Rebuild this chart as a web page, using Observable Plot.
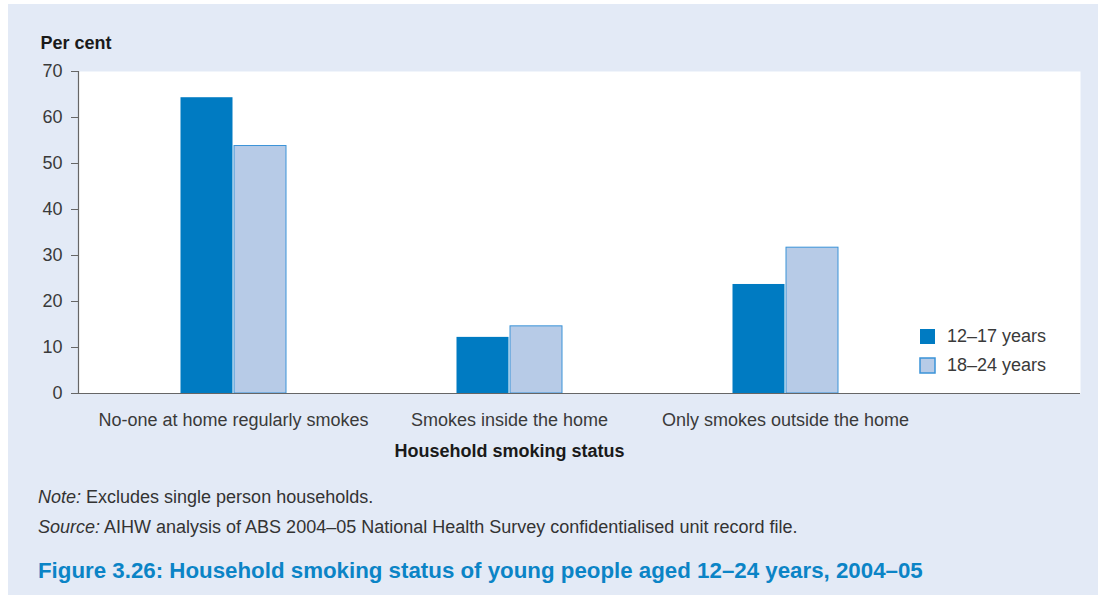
<!DOCTYPE html>
<html>
<head>
<meta charset="utf-8">
<script src="https://cdn.jsdelivr.net/npm/d3@7"></script>
<script src="https://cdn.jsdelivr.net/npm/@observablehq/plot@0.6"></script>
<style>
  body { margin: 0; background: #ffffff; font-family: "Liberation Sans", Arial, sans-serif; }
  #panel { position: absolute; left: 8px; top: 4px; width: 1090px; height: 591px; background: #e3eaf6; }
  #chart { position: absolute; left: 0; top: 0; }
  #legend { position: absolute; left: 912px; top: 318px; color: #333; }
  #caption { position: absolute; left: 30px; top: 478px; color: #333; font-size: 18px; }
  #caption .line { line-height: 30px; height: 30px; white-space: nowrap; }
  #caption .title { margin-top: 14px; color: #0b84c6; font-weight: bold; font-size: 22.3px; line-height: 30px; white-space: nowrap; }
</style>
</head>
<body>
<div id="panel">
  <div id="chart"></div>
  <div id="legend"></div>
  <div id="caption">
    <div class="line"><i>Note:</i> Excludes single person households.</div>
    <div class="line"><i>Source:</i> AIHW analysis of ABS 2004–05 National Health Survey confidentialised unit record file.</div>
    <div class="title">Figure 3.26: Household smoking status of young people aged 12–24 years, 2004–05</div>
  </div>
</div>
<script>
const categories = ["No-one at home regularly smokes", "Smokes inside the home", "Only smokes outside the home"];
const seriesNames = ["12–17 years", "18–24 years"];
const values1217 = [64.3, 12.2, 23.7];
const values1824 = [53.8, 14.6, 31.7];
const yTicks = [0, 10, 20, 30, 40, 50, 60, 70];
const colors = ["#007bc2", "#b7cbe7"];
const yLabel = "Per cent";
const xLabel = "Household smoking status";

const rows1217 = categories.map((c, i) => ({category: c, series: seriesNames[0], value: values1217[i]}));
const rows1824 = categories.map((c, i) => ({category: c, series: seriesNames[1], value: values1824[i]}));

const chart = Plot.plot({
  width: 1090,
  height: 470,
  marginLeft: 70,
  marginRight: 18,
  marginTop: 67,
  marginBottom: 81,
  style: {fontFamily: "Liberation Sans, Arial, sans-serif", fontSize: "18px", color: "#3a3a3a", background: "transparent"},
  x: {domain: categories, paddingInner: 0, paddingOuter: 0.3087, align: 0.0965},
  y: {domain: [0, 70]},
  color: {domain: seriesNames, range: colors},
  marks: [
    Plot.frame({fill: "white", stroke: null}),
    Plot.barY(rows1217, {x: "category", y: "value", fill: "series", insetLeft: 85.5, insetRight: 138.5}),
    Plot.barY(rows1824, {x: "category", y: "value", fill: "series", stroke: "#3a93d8", strokeWidth: 1, insetLeft: 139, insetRight: 85}),
    Plot.ruleY([0], {stroke: "#666", strokeWidth: 1.2}),
    Plot.frame({anchor: "left", stroke: "#666", strokeWidth: 1.2}),
    Plot.axisY({ticks: yTicks, tickSize: 7, tickPadding: 9, stroke: "#666", label: null}),
    Plot.axisX({tickSize: 0, tickPadding: 20, label: null}),
    Plot.text([yLabel], {text: d => d, frameAnchor: "top-left", textAnchor: "start", dx: -38, dy: -35, fontWeight: "bold", fill: "#1a1a1a", fontSize: 18}),
    Plot.text([xLabel], {text: d => d, x: () => categories[1], frameAnchor: "bottom", dy: 63, fontWeight: "bold", fill: "#1a1a1a", fontSize: 18})
  ]
});
document.getElementById("chart").appendChild(chart);

const legend = Plot.legend({color: {domain: seriesNames, range: colors}, legend: "swatches", swatchSize: 15, columns: 1, style: {fontFamily: "Liberation Sans, Arial, sans-serif", fontSize: "18px", color: "#3a3a3a", background: "transparent"}});
document.getElementById("legend").appendChild(legend);
const sw = legend.querySelectorAll("svg");
sw.forEach(s => { s.style.marginRight = "12px"; });
if (sw.length > 1) {
  const r = sw[1].querySelector("rect");
  if (r) { r.setAttribute("stroke", "#3a93d8"); r.setAttribute("stroke-width", "1.5"); }
}
legend.querySelectorAll("div").forEach(d => { d.style.lineHeight = "28px"; d.style.height = "28px"; d.style.marginBottom = "0px"; });
</script>
</body>
</html>
